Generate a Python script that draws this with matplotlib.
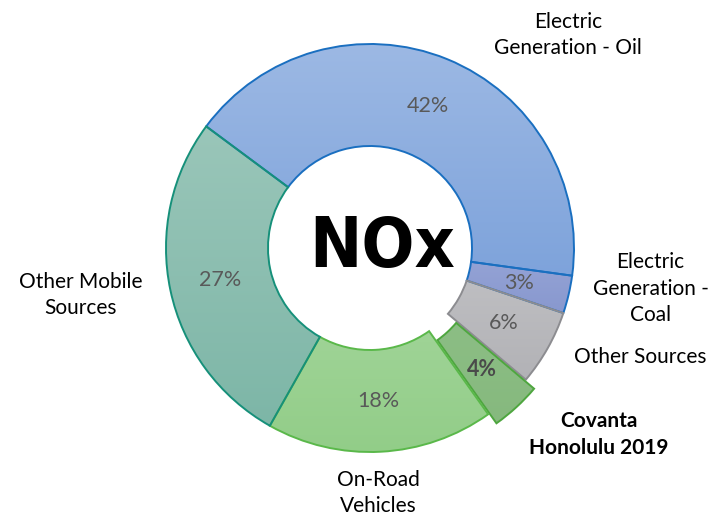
import numpy as np
import matplotlib.pyplot as plt
from matplotlib import font_manager
from matplotlib.colors import LinearSegmentedColormap

# NOx emissions by source (share in %)
LABELS = ["Electric\nGeneration - Oil", "Electric\nGeneration -\nCoal", "Other Sources",
          "Covanta\nHonolulu 2019", "On-Road\nVehicles", "Other Mobile\nSources"]
SHARES = [42, 3, 6, 4, 18, 27]
TOP_COLORS = ["#9db9e4", "#97a5d6", "#c2c2c5", "#90c189", "#a8d8a0", "#9ac6b9"]
BOTTOM_COLORS = ["#7ea3db", "#8898cf", "#b2b2b6", "#86b97e", "#92cd88", "#7db6a7"]
EDGE_COLORS = ["#1a6fc0", "#1a6fc0", "#8c8c90", "#4ea63f", "#5ab84a", "#16907a"]
EXPLODE = [0, 0, 0, 0.06, 0, 0]

FONT = ["Lato", "DejaVu Sans"]


def narrow_bold_font(size):
    # pick a condensed/narrow bold face if one is installed
    best = None
    for f in font_manager.fontManager.ttflist:
        name = f.name + " " + str(f.stretch)
        narrow = ("Narrow" in name or "Condensed" in name or "condensed" in name)
        if not narrow:
            continue
        w = f.weight if isinstance(f.weight, int) else (700 if "bold" in str(f.weight) else 400)
        score = abs(w - 700) + (0 if f.style == "normal" else 1000)
        if best is None or score < best[0]:
            best = (score, f.fname)
    if best:
        return font_manager.FontProperties(fname=best[1], size=size)
    return font_manager.FontProperties(family="DejaVu Sans", weight="bold", size=size)


fig = plt.figure(figsize=(7.22, 5.16), dpi=100)
ax = fig.add_axes([0, 0, 1, 1])

wedges, texts, autotexts = ax.pie(
    SHARES, startangle=143.4, counterclock=False, explode=EXPLODE,
    autopct="%.0f%%", pctdistance=0.75,
    wedgeprops=dict(width=0.5, linewidth=1.4),
    textprops=dict(fontsize=15.5, color="#595959", family=FONT))

# vertical gradient fill clipped to each wedge
for w, c_top, c_bot, ec in zip(wedges, TOP_COLORS, BOTTOM_COLORS, EDGE_COLORS):
    verts = w.get_patch_transform().transform(w.get_path().vertices)
    x0, y0 = verts.min(axis=0)
    x1, y1 = verts.max(axis=0)
    cmap = LinearSegmentedColormap.from_list("g", [c_bot, c_top])
    grad = np.linspace(0, 1, 256).reshape(-1, 1)
    im = ax.imshow(grad, cmap=cmap, extent=[x0, x1, y0, y1], origin="lower",
                   aspect="auto", zorder=1)
    im.set_clip_path(w)
    w.set_facecolor("none")
    w.set_edgecolor(ec)
    w.set_zorder(2)

for t in autotexts:
    t.set_zorder(3)
autotexts[3].set_fontweight("bold")
autotexts[3].set_color("#4a4a4a")

label_pos = [(0.97, 1.045), (1.375, -0.2), (1.325, -0.535),
             (1.12, -0.915), (0.04, -1.2), (-1.42, -0.23)]
for i, (lab, (lx, ly)) in enumerate(zip(LABELS, label_pos)):
    ax.text(lx, ly, lab, ha="center", va="center", fontsize=15, linespacing=1.4,
            fontweight="bold" if i == 3 else "normal", family=FONT, color="black")

ax.text(0.06, 0.0, "NOx", ha="center", va="center", fontproperties=narrow_bold_font(50),
        color="black")

ax.set_xlim(-370 / 204, 352 / 204)
ax.set_ylim(-268 / 204, 248 / 204)
ax.set_aspect("equal")
ax.axis("off")

fig.savefig("out.png", dpi=100)
